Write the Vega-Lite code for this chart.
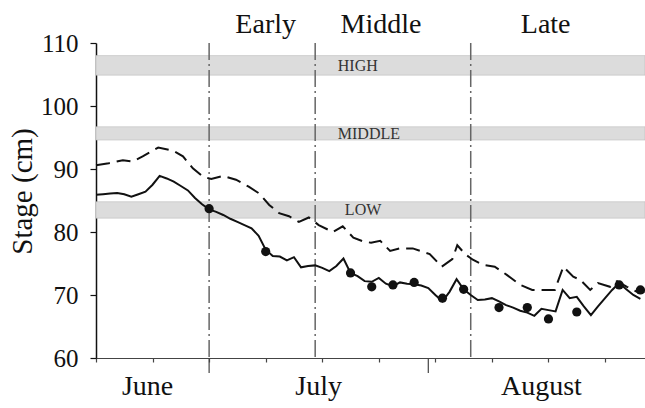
{
  "$schema": "https://vega.github.io/schema/vega-lite/v6.json",
  "width": 549,
  "height": 315,
  "autosize": {"type": "none"},
  "padding": {"left": 96, "top": 43, "right": 0, "bottom": 50},
  "config": {"font": "Liberation Serif", "view": {"stroke": null}},
  "datasets": {
    "solid": [
      {"day": 0, "stage": 85.9}, {"day": 1, "stage": 86.0}, {"day": 2, "stage": 86.1}, {"day": 3, "stage": 86.2},
      {"day": 4, "stage": 86.0}, {"day": 5, "stage": 85.6}, {"day": 6, "stage": 86.0}, {"day": 7, "stage": 86.4},
      {"day": 8, "stage": 87.5}, {"day": 9, "stage": 88.9}, {"day": 10, "stage": 88.5}, {"day": 11, "stage": 88.0},
      {"day": 12, "stage": 87.3}, {"day": 13, "stage": 86.6}, {"day": 14, "stage": 85.4}, {"day": 15, "stage": 84.4},
      {"day": 16, "stage": 83.6}, {"day": 17, "stage": 83.2}, {"day": 18, "stage": 82.7}, {"day": 19, "stage": 82.1},
      {"day": 20, "stage": 81.6}, {"day": 21, "stage": 81.1}, {"day": 22, "stage": 80.6}, {"day": 23, "stage": 79.4},
      {"day": 24, "stage": 77.2}, {"day": 25, "stage": 76.2}, {"day": 26, "stage": 76.1}, {"day": 27, "stage": 75.5},
      {"day": 28, "stage": 76.0}, {"day": 29, "stage": 74.4}, {"day": 30, "stage": 74.6}, {"day": 31, "stage": 74.7},
      {"day": 32, "stage": 74.3}, {"day": 33, "stage": 73.8}, {"day": 34, "stage": 74.6}, {"day": 35, "stage": 75.8},
      {"day": 36, "stage": 73.5}, {"day": 37, "stage": 73.0}, {"day": 38, "stage": 72.2}, {"day": 39, "stage": 72.1},
      {"day": 40, "stage": 72.7}, {"day": 41, "stage": 71.8}, {"day": 42, "stage": 71.4}, {"day": 43, "stage": 72.0},
      {"day": 44, "stage": 71.8}, {"day": 45, "stage": 71.7}, {"day": 46, "stage": 71.5}, {"day": 47, "stage": 71.1},
      {"day": 48, "stage": 70.0}, {"day": 49, "stage": 69.0}, {"day": 50, "stage": 70.5}, {"day": 51, "stage": 72.5},
      {"day": 52, "stage": 70.9}, {"day": 53, "stage": 70.0}, {"day": 54, "stage": 69.2}, {"day": 55, "stage": 69.3},
      {"day": 56, "stage": 69.5}, {"day": 57, "stage": 69.0}, {"day": 58, "stage": 68.4}, {"day": 59, "stage": 68.0},
      {"day": 60, "stage": 67.5}, {"day": 61, "stage": 67.2}, {"day": 62, "stage": 66.7}, {"day": 63, "stage": 67.8},
      {"day": 64, "stage": 67.6}, {"day": 65, "stage": 67.4}, {"day": 66, "stage": 70.8}, {"day": 67, "stage": 69.5},
      {"day": 68, "stage": 69.7}, {"day": 69, "stage": 68.2}, {"day": 70, "stage": 66.8}, {"day": 71, "stage": 68.2},
      {"day": 72, "stage": 69.5}, {"day": 73, "stage": 70.8}, {"day": 74, "stage": 71.9}, {"day": 75, "stage": 70.9},
      {"day": 76, "stage": 70.0}, {"day": 77, "stage": 69.4}
    ],
    "dashed": [
      {"day": 0, "stage": 90.6}, {"day": 1.8, "stage": 90.9}, {"day": 3.8, "stage": 91.4}, {"day": 5.2, "stage": 91.2},
      {"day": 6.6, "stage": 92.0}, {"day": 8.8, "stage": 93.4}, {"day": 10.9, "stage": 92.9}, {"day": 12.3, "stage": 92.0},
      {"day": 13.7, "stage": 90.1}, {"day": 15.1, "stage": 88.8}, {"day": 16.3, "stage": 88.4}, {"day": 18, "stage": 88.9},
      {"day": 19.8, "stage": 88.3}, {"day": 21.6, "stage": 87.2}, {"day": 23.1, "stage": 86.1}, {"day": 24.5, "stage": 84.3},
      {"day": 25.9, "stage": 83.0}, {"day": 27.3, "stage": 82.5}, {"day": 28.7, "stage": 81.6}, {"day": 30.1, "stage": 82.3},
      {"day": 31.5, "stage": 81.1}, {"day": 33.5, "stage": 80.0}, {"day": 34.9, "stage": 80.9}, {"day": 36.4, "stage": 79.1},
      {"day": 37.8, "stage": 78.5}, {"day": 38.9, "stage": 78.3}, {"day": 40.2, "stage": 78.6}, {"day": 41.6, "stage": 77.0},
      {"day": 43, "stage": 77.4}, {"day": 44.8, "stage": 77.4}, {"day": 47.2, "stage": 76.5}, {"day": 48.9, "stage": 74.5},
      {"day": 50.4, "stage": 75.7}, {"day": 51.1, "stage": 77.9}, {"day": 52.2, "stage": 76.5}, {"day": 53.3, "stage": 75.6},
      {"day": 54.7, "stage": 74.8}, {"day": 56.4, "stage": 74.5}, {"day": 58.1, "stage": 73.2}, {"day": 60, "stage": 71.6},
      {"day": 61.7, "stage": 70.8}, {"day": 63.2, "stage": 70.8}, {"day": 64.9, "stage": 70.8}, {"day": 66.1, "stage": 74.5},
      {"day": 67.5, "stage": 72.9}, {"day": 68.5, "stage": 72.4}, {"day": 69.9, "stage": 70.8}, {"day": 71, "stage": 71.9},
      {"day": 72.7, "stage": 71.3}, {"day": 73.7, "stage": 72.2}, {"day": 75.1, "stage": 71.3}, {"day": 76.7, "stage": 70.4},
      {"day": 77.6, "stage": 70.5}
    ],
    "obs": [
      {"day": 16, "stage": 83.7}, {"day": 24, "stage": 76.9}, {"day": 36, "stage": 73.5}, {"day": 39, "stage": 71.3},
      {"day": 42, "stage": 71.6}, {"day": 45, "stage": 72.0}, {"day": 49, "stage": 69.5}, {"day": 52, "stage": 70.9},
      {"day": 57, "stage": 68.0}, {"day": 61, "stage": 68.0}, {"day": 64, "stage": 66.2}, {"day": 68, "stage": 67.3},
      {"day": 74, "stage": 71.6}, {"day": 77, "stage": 70.8}
    ],
    "bands": [
      {"level": "HIGH", "lo": 104.9, "hi": 108.0},
      {"level": "MIDDLE", "lo": 94.6, "hi": 96.7},
      {"level": "LOW", "lo": 82.2, "hi": 84.8}
    ],
    "bandLabels": [
      {"level": "HIGH", "day": 34.2, "stage": 106.4},
      {"level": "MIDDLE", "day": 34.2, "stage": 95.6},
      {"level": "LOW", "day": 35.2, "stage": 83.5}
    ],
    "periods": [
      {"period": "Early", "start": 16},
      {"period": "Middle", "start": 31},
      {"period": "Late", "start": 53}
    ],
    "periodLabels": [
      {"period": "Early", "day": 24.0},
      {"period": "Middle", "day": 40.3},
      {"period": "Late", "day": 63.6}
    ],
    "months": [
      {"month": "June", "mid": 7.3},
      {"month": "July", "mid": 31.5},
      {"month": "August", "mid": 63.0}
    ],
    "monthStarts": [
      {"month": "July", "start": 16},
      {"month": "August", "start": 47}
    ]
  },
  "layer": [
    {
      "data": {"name": "bands"},
      "mark": {"type": "rect", "fill": "#dcdcdc", "stroke": "#bdbdbd", "strokeWidth": 0.6},
      "encoding": {
        "y": {"field": "lo", "type": "quantitative", "scale": {"domain": [60, 110], "nice": false, "zero": false},
          "axis": {"title": "Stage (cm)", "values": [60, 70, 80, 90, 100, 110], "grid": false,
            "domainColor": "#111", "domainWidth": 1.5, "tickColor": "#111", "tickSize": 6, "tickWidth": 1.2,
            "labelFontSize": 25, "labelColor": "#111", "labelPadding": 12, "labelFont": "Liberation Serif",
            "titleFontSize": 29, "titleFontWeight": "normal", "titleColor": "#111", "titlePadding": 3, "titleY": 148,
            "titleFont": "Liberation Serif"}},
        "y2": {"field": "hi"}
      }
    },
    {
      "data": {"name": "bandLabels"},
      "mark": {"type": "text", "align": "left", "baseline": "middle", "fontSize": 16, "color": "#333"},
      "encoding": {
        "x": {"field": "day", "type": "quantitative", "scale": {"domain": [0, 77.65], "nice": false, "zero": false}},
        "y": {"field": "stage", "type": "quantitative", "scale": {"domain": [60, 110], "nice": false, "zero": false}},
        "text": {"field": "level"}
      }
    },
    {
      "data": {"name": "periods"},
      "mark": {"type": "rule", "color": "#666", "strokeWidth": 1.5, "strokeDash": [17, 4, 2, 4]},
      "encoding": {
        "x": {"field": "start", "type": "quantitative", "scale": {"domain": [0, 77.65], "nice": false, "zero": false}}
      }
    },
    {
      "data": {"name": "monthStarts"},
      "mark": {"type": "rule", "color": "#444", "strokeWidth": 1.2, "clip": false},
      "encoding": {
        "x": {"field": "start", "type": "quantitative", "scale": {"domain": [0, 77.65], "nice": false, "zero": false}},
        "y": {"datum": 60, "type": "quantitative", "scale": {"domain": [60, 110], "nice": false, "zero": false}},
        "y2": {"datum": 57.6}
      }
    },
    {
      "mark": {"type": "rule", "color": "#999", "strokeWidth": 1.5},
      "encoding": {"y": {"datum": 110, "type": "quantitative", "scale": {"domain": [60, 110], "nice": false, "zero": false}}}
    },
    {
      "data": {"name": "periodLabels"},
      "mark": {"type": "text", "align": "center", "baseline": "alphabetic", "fontSize": 28, "color": "#111"},
      "encoding": {
        "x": {"field": "day", "type": "quantitative", "scale": {"domain": [0, 77.65], "nice": false, "zero": false}},
        "y": {"datum": 111.6, "type": "quantitative", "scale": {"domain": [60, 110], "nice": false, "zero": false}},
        "text": {"field": "period"}
      }
    },
    {
      "data": {"name": "months"},
      "mark": {"type": "text", "align": "center", "baseline": "alphabetic", "fontSize": 28, "color": "#111"},
      "encoding": {
        "x": {"field": "mid", "type": "quantitative", "scale": {"domain": [0, 77.65], "nice": false, "zero": false}},
        "y": {"datum": 54.15, "type": "quantitative", "scale": {"domain": [60, 110], "nice": false, "zero": false}},
        "text": {"field": "month"}
      }
    },
    {
      "data": {"name": "dashed"},
      "mark": {"type": "line", "color": "#111", "strokeWidth": 2, "strokeDash": [14, 7]},
      "encoding": {
        "x": {"field": "day", "type": "quantitative", "scale": {"domain": [0, 77.65], "nice": false, "zero": false},
          "axis": {
            "title": null, "grid": false, "labels": false,
            "values": [0, 2, 4, 6, 8, 10, 12, 14, 16, 18, 20, 22, 24, 26, 28, 30, 32, 34, 36, 38, 40, 42, 44, 46, 48, 50, 52, 54, 56, 58, 60, 62, 64, 66, 68, 70, 72, 74, 76],
            "domainColor": "#444", "domainWidth": 1.2, "tickColor": "#444", "tickWidth": 1.2, "tickSize": 4
          }},
        "y": {"field": "stage", "type": "quantitative", "scale": {"domain": [60, 110], "nice": false, "zero": false}}
      }
    },
    {
      "data": {"name": "solid"},
      "mark": {"type": "line", "color": "#111", "strokeWidth": 2},
      "encoding": {
        "x": {"field": "day", "type": "quantitative", "scale": {"domain": [0, 77.65], "nice": false, "zero": false}},
        "y": {"field": "stage", "type": "quantitative", "scale": {"domain": [60, 110], "nice": false, "zero": false}}
      }
    },
    {
      "data": {"name": "obs"},
      "mark": {"type": "point", "filled": true, "color": "#111", "opacity": 1, "size": 85},
      "encoding": {
        "x": {"field": "day", "type": "quantitative", "scale": {"domain": [0, 77.65], "nice": false, "zero": false}},
        "y": {"field": "stage", "type": "quantitative", "scale": {"domain": [60, 110], "nice": false, "zero": false}}
      }
    }
  ]
}
